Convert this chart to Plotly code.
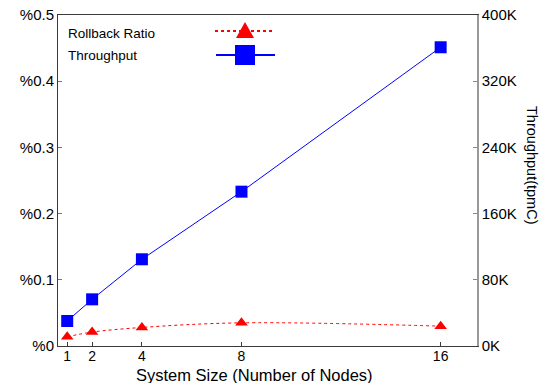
import plotly.graph_objects as go

nodes = [1, 2, 4, 8, 16]
rollback_ratio = [0.014, 0.021, 0.028, 0.035, 0.030]
throughput = [30200, 56400, 104800, 186500, 361000]

left_ticks = [0, 0.1, 0.2, 0.3, 0.4, 0.5]
left_labels = ["%0", "%0.1", "%0.2", "%0.3", "%0.4", "%0.5"]
right_ticks = [0, 80000, 160000, 240000, 320000, 400000]
right_labels = ["0K", "80K", "160K", "240K", "320K", "400K"]

FONT = "Liberation Sans, Arial, sans-serif"
DARK = "#3a3a3a"

fig = go.Figure()
fig.add_trace(go.Scatter(
    x=nodes, y=rollback_ratio, name="Rollback Ratio", yaxis="y",
    mode="lines+markers",
    line=dict(color="red", width=1, dash="dot", shape="spline"),
    marker=dict(symbol="triangle-up", size=11, color="red"),
))
fig.add_trace(go.Scatter(
    x=nodes, y=throughput, name="Throughput", yaxis="y2",
    mode="lines+markers",
    line=dict(color="blue", width=1),
    marker=dict(symbol="square", size=12, color="blue"),
))

def px_x(p):
    return (p - 58) / 419

def px_y(p):
    return (346 - p) / 331

shapes = [
    dict(type="line", xref="paper", yref="paper",
         x0=px_x(215), x1=px_x(273), y0=px_y(31), y1=px_y(31),
         line=dict(color="red", width=2, dash="dot")),
    dict(type="path", xref="paper", yref="paper",
         path=f"M {px_x(236)} {px_y(38)} L {px_x(254)} {px_y(38)} L {px_x(245)} {px_y(22)} Z",
         fillcolor="red", line=dict(width=0)),
    dict(type="line", xref="paper", yref="paper",
         x0=px_x(216), x1=px_x(275), y0=px_y(55), y1=px_y(55),
         line=dict(color="blue", width=2)),
    dict(type="rect", xref="paper", yref="paper",
         x0=px_x(235), x1=px_x(255), y0=px_y(65), y1=px_y(45),
         fillcolor="blue", line=dict(width=0)),
]

annotations = [
    dict(text="Rollback Ratio", xref="paper", yref="paper", x=px_x(66), y=px_y(33),
         xanchor="left", yanchor="middle", showarrow=False,
         font=dict(family=FONT, size=13.5, color="black")),
    dict(text="Throughput", xref="paper", yref="paper", x=px_x(66), y=px_y(56),
         xanchor="left", yanchor="middle", showarrow=False,
         font=dict(family=FONT, size=13.5, color="black")),
    dict(text="Throughput(tpmC)", xref="paper", yref="paper", x=px_x(532), y=px_y(165),
         xanchor="center", yanchor="middle", showarrow=False, textangle=90,
         font=dict(family=FONT, size=14.5, color="black")),
    dict(text="System Size (Number of Nodes)", xref="paper", yref="paper",
         x=px_x(254), y=px_y(374.5), xanchor="center", yanchor="middle", showarrow=False,
         font=dict(family=FONT, size=16.5, color="black")),
]

fig.update_layout(
    width=550, height=383,
    margin=dict(l=58, r=73, t=15, b=37, autoexpand=False),
    paper_bgcolor="white", plot_bgcolor="white",
    showlegend=False,
    font=dict(family=FONT, size=15, color="black"),
    shapes=shapes, annotations=annotations,
    xaxis=dict(
        range=[0.63, 17.46], tickvals=nodes, ticktext=[str(n) for n in nodes],
        ticks="inside", ticklen=4, tickcolor=DARK,
        showline=True, linecolor=DARK, linewidth=1, mirror=True,
        showgrid=False, zeroline=False, automargin=False,
        ticklabeloverflow="allow", ticklabelstandoff=-3,
        tickfont=dict(size=14),
    ),
    yaxis=dict(
        range=[0, 0.5], tickvals=left_ticks, ticktext=left_labels,
        ticks="inside", ticklen=4, tickcolor="#777",
        showline=True, linecolor=DARK, linewidth=1,
        showgrid=False, zeroline=False, automargin=False,
        ticklabeloverflow="allow",
        tickfont=dict(size=15),
    ),
    yaxis2=dict(
        range=[0, 400000], tickvals=right_ticks, ticktext=right_labels,
        overlaying="y", side="right",
        ticks="inside", ticklen=4, tickcolor="#888",
        showline=True, linecolor="#999", linewidth=1.5,
        showgrid=False, zeroline=False, automargin=False,
        ticklabeloverflow="allow",
        tickfont=dict(size=15),
    ),
)

fig.write_html("out.html", config={"displayModeBar": False},
               post_script="document.body.style.margin='0';")
